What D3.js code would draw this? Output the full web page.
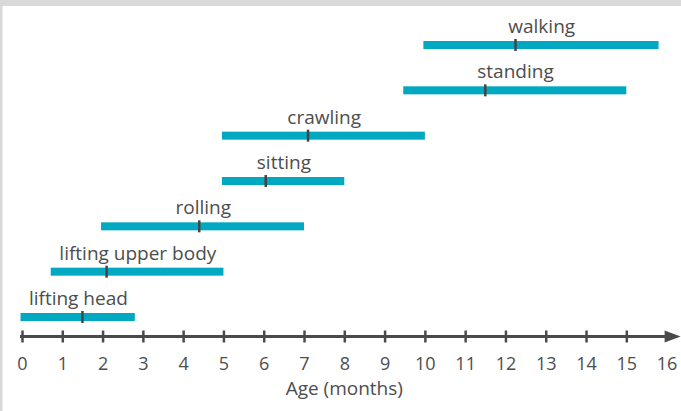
<!DOCTYPE html>
<html>
<head>
<meta charset="utf-8">
<script src="https://cdn.jsdelivr.net/npm/d3@7"></script>
<style>
  html, body { margin: 0; padding: 0; background: #fff; }
  svg { display: block; }
  text { font-family: "Open Sans", sans-serif; fill: #4d4d4d; }
</style>
</head>
<body>
<div id="chart"></div>
<script>
// milestones, bottom to top
var milestones = ["lifting head", "lifting upper body", "rolling", "sitting", "crawling", "standing", "walking"];
var startAge   = [0, 0.75, 2, 5, 5, 9.5, 10];
var endAge     = [2.8, 5, 7, 8, 10, 15, 15.8];
var medianAge  = [1.5, 2.1, 4.4, 6.05, 7.1, 11.5, 12.25];
var tickLabels = d3.range(0, 17);

var width = 681, height = 411;

var svg = d3.select("#chart")
  .append("svg")
  .attr("width", width)
  .attr("height", height);

// grey frame at top and left
svg.append("rect").attr("x", 0).attr("y", 0).attr("width", width).attr("height", 6).attr("fill", "#d9d9d9");
svg.append("rect").attr("x", 0).attr("y", 0).attr("width", 2.5).attr("height", height).attr("fill", "#d9d9d9");

var x = d3.scaleLinear().domain([0, 16]).range([22, 666.6]);
var y = d3.scalePoint().domain(milestones).range([317, 45]);
var barH = 8;
var axisY = 336.5;

var data = milestones.map(function(m, i) {
  return {name: m, start: startAge[i], end: endAge[i], median: medianAge[i]};
});

// axis
var xAxis = d3.axisBottom(x).tickValues(tickLabels).tickFormat(d3.format("d")).tickSize(6);
var ax = svg.append("g")
  .attr("transform", "translate(0," + axisY + ")")
  .call(xAxis);
ax.select(".domain").remove();
ax.selectAll(".tick line")
  .attr("y1", -6).attr("y2", 6)
  .attr("stroke", "#4a4a4a").attr("stroke-width", 2.5)
  .style("display", function(d) { return d === 16 ? "none" : null; });
ax.selectAll(".tick text")
  .attr("y", 33).attr("dy", 0)
  .style("font-size", "18px")
  .style("font-family", "Open Sans, sans-serif")
  .attr("fill", "#4d4d4d");

svg.append("line")
  .attr("x1", x(0) - 2).attr("x2", x(16))
  .attr("y1", axisY).attr("y2", axisY)
  .attr("stroke", "#4a4a4a").attr("stroke-width", 3);
svg.append("path")
  .attr("d", "M" + (x(16) - 2) + "," + (axisY - 6) + "L" + (x(16) + 14) + "," + axisY + "L" + (x(16) - 2) + "," + (axisY + 6) + "Z")
  .attr("fill", "#4a4a4a");

svg.append("text")
  .attr("x", x(8)).attr("y", 395)
  .attr("text-anchor", "middle")
  .style("font-size", "19px")
  .text("Age (months)");

// bars
var rows = svg.selectAll(".row").data(data).enter().append("g").attr("class", "row");

rows.append("rect")
  .attr("x", function(d) { return x(d.start) - 1.5; })
  .attr("width", function(d) { return x(d.end) - x(d.start) + 1.5; })
  .attr("y", function(d) { return y(d.name) - barH / 2; })
  .attr("height", barH)
  .attr("fill", "#00a9c1");

rows.append("line")
  .attr("x1", function(d) { return x(d.median); })
  .attr("x2", function(d) { return x(d.median); })
  .attr("y1", function(d) { return y(d.name) - barH / 2 - 2; })
  .attr("y2", function(d) { return y(d.name) + barH / 2 + 2; })
  .attr("stroke", "#444").attr("stroke-width", 2.5);

rows.append("text")
  .attr("x", function(d) { return (x(d.start) + x(d.end)) / 2; })
  .attr("y", function(d) { return y(d.name) - barH / 2 - 8; })
  .attr("text-anchor", "middle")
  .style("font-size", "19px")
  .text(function(d) { return d.name; });
</script>
</body>
</html>
